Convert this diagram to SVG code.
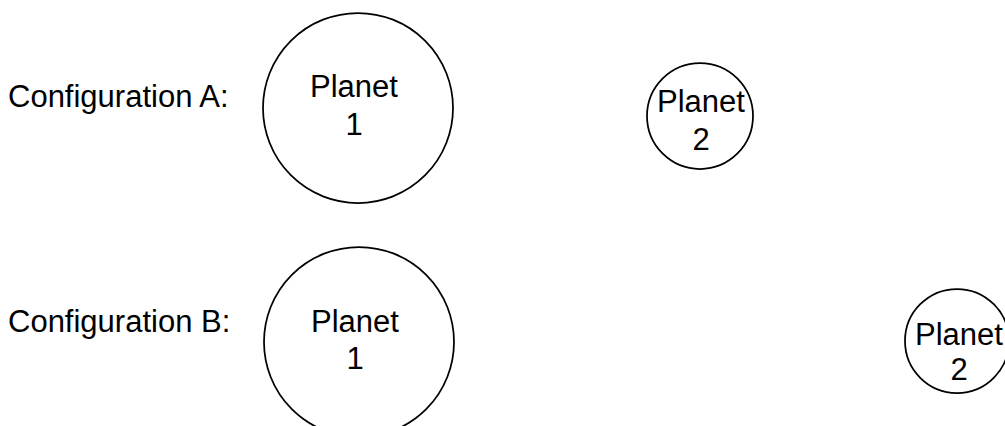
<svg xmlns="http://www.w3.org/2000/svg" width="1005" height="426" viewBox="0 0 1005 426">
<style>
.p{fill:#fff;stroke:#000;stroke-width:1.75}
text{font-family:"Liberation Sans",Arial,sans-serif;font-size:31px;fill:#000}
.c{text-anchor:middle}
</style>
<rect width="1005" height="426" fill="#fff"/>
<g id="labelA"><text x="8" y="107">Configuration A:</text></g>
<g id="labelB"><text x="8" y="332">Configuration B:</text></g>
<g id="planet1A"><circle class="p" cx="358" cy="108" r="95"/><text class="c" x="354" y="97">Planet</text><text class="c" x="354" y="135">1</text></g>
<g id="planet2A"><circle class="p" cx="700" cy="116" r="53"/><text class="c" x="701" y="112">Planet</text><text class="c" x="701" y="150">2</text></g>
<g id="planet1B"><circle class="p" cx="359" cy="342" r="95"/><text class="c" x="355" y="332">Planet</text><text class="c" x="355" y="369">1</text></g>
<g id="planet2B"><circle class="p" cx="957" cy="341" r="52"/><text class="c" x="959" y="345">Planet</text><text class="c" x="959" y="380">2</text></g>
<g id="connectors"/>
</svg>
